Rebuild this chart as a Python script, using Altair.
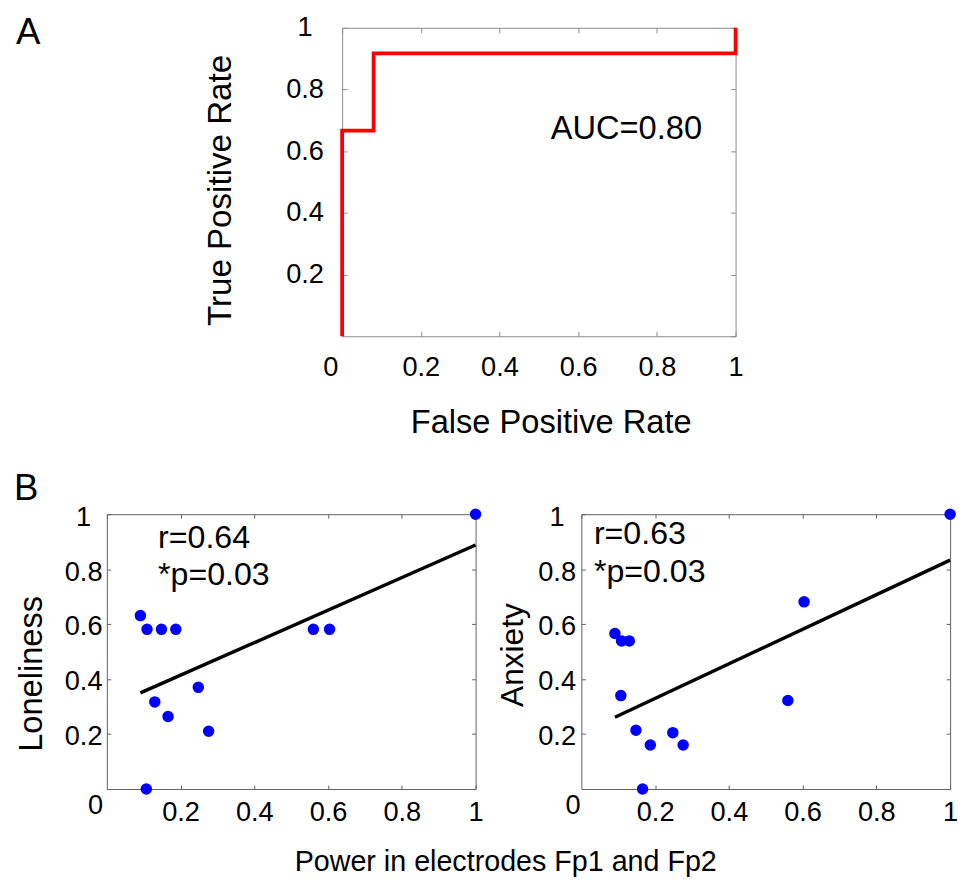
import altair as alt
import pandas as pd

# ---------------- data ----------------
# Panel A: ROC curve (step curve)
roc_fpr = [0.0, 0.0, 0.08, 0.08, 1.0, 1.0]
roc_tpr = [0.0, 0.667, 0.667, 0.917, 0.917, 1.0]
auc_text = ["AUC=0.80"]

# Panel B: one value per subject
power = [0.091, 0.107, 0.109, 0.130, 0.148, 0.166, 0.187, 0.248, 0.276, 0.560, 0.604, 1.0]
loneliness = [0.631, 0.0, 0.581, 0.317, 0.581, 0.264, 0.581, 0.370, 0.210, 0.581, 0.581, 1.0]
anxiety = [0.566, 0.340, 0.539, 0.539, 0.214, 0.0, 0.160, 0.205, 0.160, 0.322, 0.681, 1.0]
stats_lon = ["r=0.64", "*p=0.03"]
stats_anx = ["r=0.63", "*p=0.03"]

tick_values = [0, 0.2, 0.4, 0.6, 0.8, 1]
a_y_labels = [0.2, 0.4, 0.6, 0.8, 1]

FONT = "Liberation Sans"
BOX_A = "#8c8c8c"
BOX_B = "#606060"
LABEL_FS = 27.5

unit = alt.Scale(domain=[0, 1], nice=False, zero=False, padding=0)


def ticks_only(orient, tick, color):
    return alt.Axis(values=tick_values, orient=orient, offset=-tick, tickSize=tick,
                    tickColor=color, tickWidth=1, domain=False, labels=False, title=None,
                    minExtent=0, maxExtent=0)


# ---------------- Panel A ----------------
roc_df = pd.DataFrame({"fpr": roc_fpr, "tpr": roc_tpr, "step": list(range(len(roc_fpr)))})

a_x_axis = alt.Axis(values=tick_values, orient="bottom", offset=-5, tickSize=5, tickColor=BOX_A,
                    domain=False, format="~g", labelFontSize=LABEL_FS, labelPadding=32,
                    labelBaseline="middle", labelFlush=False, labelOverlap=False,
                    labelOffset={"condition": {"test": "datum.value === 0", "value": -12}, "value": 0},
                    title="False Positive Rate", titleFontSize=33, titleX=211, titleY=92,
                    titleAlign="center", titleBaseline="middle")
a_y_axis = alt.Axis(values=a_y_labels, orient="left", offset=-5, tickSize=5, tickColor=BOX_A,
                    domain=False, format="~g", labelFontSize=LABEL_FS, labelPadding=38,
                    labelAlign="center", labelFlush=False, labelOverlap=False,
                    title="True Positive Rate", titleFontSize=33.5, titleAngle=270,
                    titleX=-128, titleY=164, titleAlign="center", titleBaseline="middle")

roc_line = alt.Chart(roc_df).mark_line(color="#ff0000", strokeWidth=3.8, strokeJoin="miter").encode(
    x=alt.X("fpr:Q", scale=unit, axis=a_x_axis),
    y=alt.Y("tpr:Q", scale=unit, axis=a_y_axis),
    order="step:Q",
)
roc_ticks = alt.Chart(roc_df).mark_point(opacity=0).encode(
    x=alt.X("fpr:Q", scale=unit, axis=ticks_only("top", 5, BOX_A)),
    y=alt.Y("tpr:Q", scale=unit, axis=ticks_only("right", 5, BOX_A)),
)
auc_df = pd.DataFrame({"fpr": [0.53], "tpr": [0.673], "label": auc_text})
auc = alt.Chart(auc_df).mark_text(align="left", baseline="middle", fontSize=33, font=FONT).encode(
    x=alt.X("fpr:Q", scale=unit, axis=None),
    y=alt.Y("tpr:Q", scale=unit, axis=None),
    text="label:N",
)
letter_a = alt.Chart(pd.DataFrame({"t": ["A"]})).mark_text(
    align="left", baseline="top", fontSize=37, font=FONT).encode(
    text="t:N", x=alt.value(-330), y=alt.value(-12.5))

panel_a = alt.layer(roc_line, roc_ticks, auc, letter_a).resolve_axis(
    x="independent", y="independent").properties(
    width=398, height=312, view=alt.ViewBackground(stroke=BOX_A, strokeWidth=1))

spacer = alt.Chart(pd.DataFrame({"v": [0]})).mark_point(opacity=0).encode(
    x=alt.value(0), y=alt.value(0)).properties(
    width=238, height=312, view=alt.ViewBackground(stroke="transparent"))

# ---------------- Panel B ----------------
b_df = pd.DataFrame({"power": power, "loneliness": loneliness, "anxiety": anxiety})


def panel_b(ycol, ytitle, stats, sx, sy, width, pad, title_x, title_y, title_fs, xtitle, letter):
    x_axis_kw = dict(values=tick_values[1:], orient="bottom", offset=-4, tickSize=4, tickColor=BOX_B,
                     domain=False, format="~g", labelFontSize=LABEL_FS, labelPadding=24,
                     labelBaseline="middle", labelFlush=False, labelOverlap=False)
    if xtitle:
        x_axis_kw.update(title=xtitle, titleFontSize=29, titleX=403, titleY=77,
                         titleAlign="center", titleBaseline="middle")
    else:
        x_axis_kw.update(title=None)
    x_axis = alt.Axis(**x_axis_kw)
    y_axis = alt.Axis(values=tick_values, orient="left", offset=-4, tickSize=4, tickColor=BOX_B,
                      domain=False, format="~g", labelFontSize=LABEL_FS,
                      labelPadding={"condition": {"test": "datum.value === 0", "value": pad[0]}, "value": pad[1]},
                      labelOffset={"condition": {"test": "datum.value === 0", "value": 17}, "value": 3},
                      labelAlign="center", labelFlush=False, labelOverlap=False,
                      title=ytitle, titleFontSize=title_fs, titleAngle=270, titleX=title_x, titleY=title_y,
                      titleAlign="center", titleBaseline="middle")

    fit = alt.Chart(b_df).transform_regression("power", ycol).mark_line(
        color="black", strokeWidth=3.4).encode(
        x=alt.X("power:Q", scale=unit, axis=None),
        y=alt.Y(f"{ycol}:Q", scale=unit, axis=None),
    )
    pts = alt.Chart(b_df).mark_circle(size=135, color="#0000ff", opacity=1).encode(
        x=alt.X("power:Q", scale=unit, axis=x_axis),
        y=alt.Y(f"{ycol}:Q", scale=unit, axis=y_axis),
    )
    tks = alt.Chart(b_df).mark_point(opacity=0).encode(
        x=alt.X("power:Q", scale=unit, axis=ticks_only("top", 4, BOX_B)),
        y=alt.Y(f"{ycol}:Q", scale=unit, axis=ticks_only("right", 4, BOX_B)),
    )
    st_df = pd.DataFrame({"power": [sx, sx], ycol: sy, "label": stats})
    st = alt.Chart(st_df).mark_text(align="left", baseline="middle", fontSize=32.5, font=FONT).encode(
        x=alt.X("power:Q", scale=unit, axis=None),
        y=alt.Y(f"{ycol}:Q", scale=unit, axis=None),
        text="label:N",
    )
    layers = [fit, pts, tks, st]
    if letter:
        layers.append(alt.Chart(pd.DataFrame({"t": [letter]})).mark_text(
            align="left", baseline="top", fontSize=37, font=FONT).encode(
            text="t:N", x=alt.value(-94), y=alt.value(-43)))
    return alt.layer(*layers).resolve_axis(x="independent", y="independent").properties(
        width=width, height=278, view=alt.ViewBackground(stroke=BOX_B, strokeWidth=1))


panel_bl = panel_b("loneliness", "Loneliness", stats_lon, 0.139, [0.914, 0.778], 373,
                   (12, 24), -80, 161, 33, "Power in electrodes Fp1 and Fp2", "B")
panel_br = panel_b("anxiety", "Anxiety", stats_anx, 0.034, [0.928, 0.79], 373,
                   (9, 25), -74, 142, 32, None, None)

top = alt.hconcat(spacer, panel_a, spacing=0, bounds="flush")
bottom = alt.hconcat(panel_bl, panel_br, spacing=107, bounds="flush")

# with flush bounds the nested row counts as zero height, so the gap includes panel A's height
chart = alt.vconcat(top, bottom, spacing=312 + 180, bounds="flush").properties(
    padding={"left": 5, "top": 0, "right": 0, "bottom": 0}
).configure(font=FONT).configure_axis(
    grid=False, labelFont=FONT, titleFont=FONT, labelColor="black", titleColor="black",
    titleFontWeight="normal", labelFontWeight="normal"
).configure_view(strokeWidth=1)

chart.save("out.html", embed_options={"renderer": "svg", "actions": False})
